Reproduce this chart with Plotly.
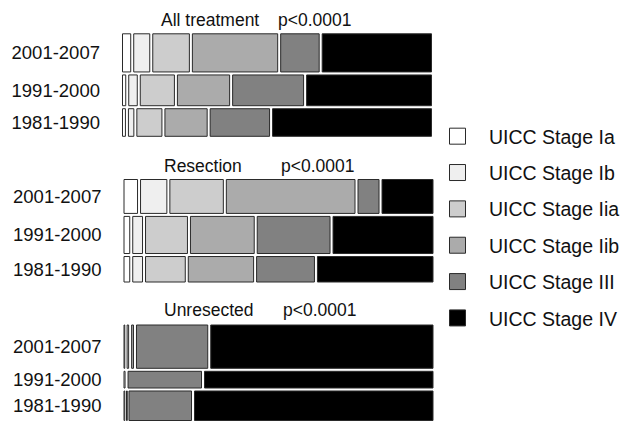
import plotly.graph_objects as go

W, H = 620, 422

periods = ["2001-2007", "1991-2000", "1981-1990"]
stages = ["UICC Stage Ia", "UICC Stage Ib", "UICC Stage Iia",
          "UICC Stage Iib", "UICC Stage III", "UICC Stage IV"]
panel_titles = ["All treatment", "Resection", "Unresected"]
p_values = ["p<0.0001", "p<0.0001", "p<0.0001"]

# Stage distribution (% of patients) per period, rows follow `periods`
all_treatment = [
    [3.6, 6.1, 12.7, 28.3, 13.3, 36.0],
    [2.0, 3.7, 11.9, 17.7, 23.7, 41.0],
    [1.9, 2.7, 9.0, 14.5, 20.0, 51.9],
]
resection = [
    [5.3, 9.4, 18.1, 42.2, 7.7, 17.3],
    [2.8, 4.1, 14.4, 21.4, 24.3, 33.0],
    [2.8, 4.1, 13.7, 21.9, 19.5, 38.0],
]
unresected = [
    [1.0, 1.45, 0.0, 1.55, 23.8, 72.2],
    [1.3, 0.0, 0.0, 0.0, 24.5, 74.2],
    [0.8, 0.8, 0.0, 0.0, 21.0, 77.4],
]

# Share of each period within a panel (row thickness of the mosaic)
all_treatment_share = [39, 32, 29]
resection_share = [35, 38, 27]
unresected_share = [47, 20, 33]

panels = [
    (panel_titles[0], p_values[0], all_treatment, all_treatment_share),
    (panel_titles[1], p_values[1], resection, resection_share),
    (panel_titles[2], p_values[2], unresected, unresected_share),
]

stage_colors = ["#ffffff", "#efefef", "#cdcdcd", "#ababab", "#818181", "#000000"]
edge = "#2a2a2a"
FONT = "Liberation Sans, Arial, sans-serif"

# panel frames in pixels: left, right, top, bottom
frames = [(121.0, 433.0, 32.3, 137.8),
          (122.5, 434.5, 178.0, 283.5),
          (122.5, 434.5, 323.5, 422.0)]
# title anchor points in pixels: name x, p-value x, centre y
title_pos = [(159.0, 275.5, 20.5), (162.0, 279.0, 166.0), (162.0, 280.5, 309.5)]
GAP = 3.0  # white gap between tiles, px

fig = go.Figure()
layout_axes = {}
annotations = []

for i, (name, pval, rows, share) in enumerate(panels):
    sfx = "" if i == 0 else str(i + 1)
    l, r, t, b = frames[i]
    gx = GAP / ((r - l) / 100.0)
    gy = GAP / ((b - t) / 100.0)

    tot = float(sum(share))
    centers, thick = [], []
    cum = 0.0
    for s in share:
        s = s * 100.0 / tot
        centers.append(cum + s / 2)
        thick.append(s - gy)
        cum += s

    for k, stage in enumerate(stages):
        xs, bases, ys, ws = [], [], [], []
        for j, row in enumerate(rows):
            scale = 100.0 / sum(row)
            v = row[k] * scale
            if v <= 0:
                continue
            start = sum(row[:k]) * scale
            bases.append(start + gx / 2)
            xs.append(max(v - gx, 0.25))
            ys.append(centers[j])
            ws.append(thick[j])
        if not xs:
            continue
        fig.add_trace(go.Bar(
            orientation="h", x=xs, y=ys, base=bases, width=ws,
            marker=dict(color=stage_colors[k], line=dict(color=edge, width=1)),
            xaxis="x" + sfx, yaxis="y" + sfx, showlegend=False,
            name=stage, hoverinfo="name+x",
        ))

    layout_axes["xaxis" + sfx] = dict(
        domain=[l / W, r / W], range=[0, 100], visible=False,
        anchor="y" + sfx, fixedrange=True,
    )
    layout_axes["yaxis" + sfx] = dict(
        domain=[max(0.0, 1 - b / H), 1 - t / H], range=[100, 0], anchor="x" + sfx,
        tickvals=centers, ticktext=periods, showgrid=False, zeroline=False,
        showline=False, ticks="", ticklabelstandoff=20,
        tickfont=dict(family=FONT, size=18.5, color="#111111"), fixedrange=True,
    )

    nx, px_, cy = title_pos[i]
    for txt, x in ((name, nx), (pval, px_)):
        annotations.append(dict(
            text=txt, x=x / W, y=1 - cy / H, xref="paper", yref="paper",
            xanchor="left", yanchor="middle", showarrow=False,
            font=dict(family=FONT, size=17.5, color="#111111"),
        ))

# legend keys
for k, stage in enumerate(stages):
    fig.add_trace(go.Scatter(
        x=[None], y=[None], mode="markers", name=stage, legendgroup=stage,
        marker=dict(symbol="square", size=18, color=stage_colors[k],
                    line=dict(color=edge, width=1)),
        xaxis="x", yaxis="y",
    ))

fig.update_layout(
    width=W, height=H, margin=dict(l=0, r=0, t=0, b=0, autoexpand=False),
    paper_bgcolor="white", plot_bgcolor="white",
    barmode="overlay", showlegend=True,
    legend=dict(
        x=426 / W, y=1 - 117 / H, xanchor="left", yanchor="top",
        font=dict(family=FONT, size=19.5, color="#111111"),
        itemwidth=53, tracegroupgap=8, bgcolor="rgba(0,0,0,0)",
        borderwidth=0, itemclick=False, itemdoubleclick=False,
    ),
    annotations=annotations,
    **layout_axes,
)

fig.write_html("out.html")
